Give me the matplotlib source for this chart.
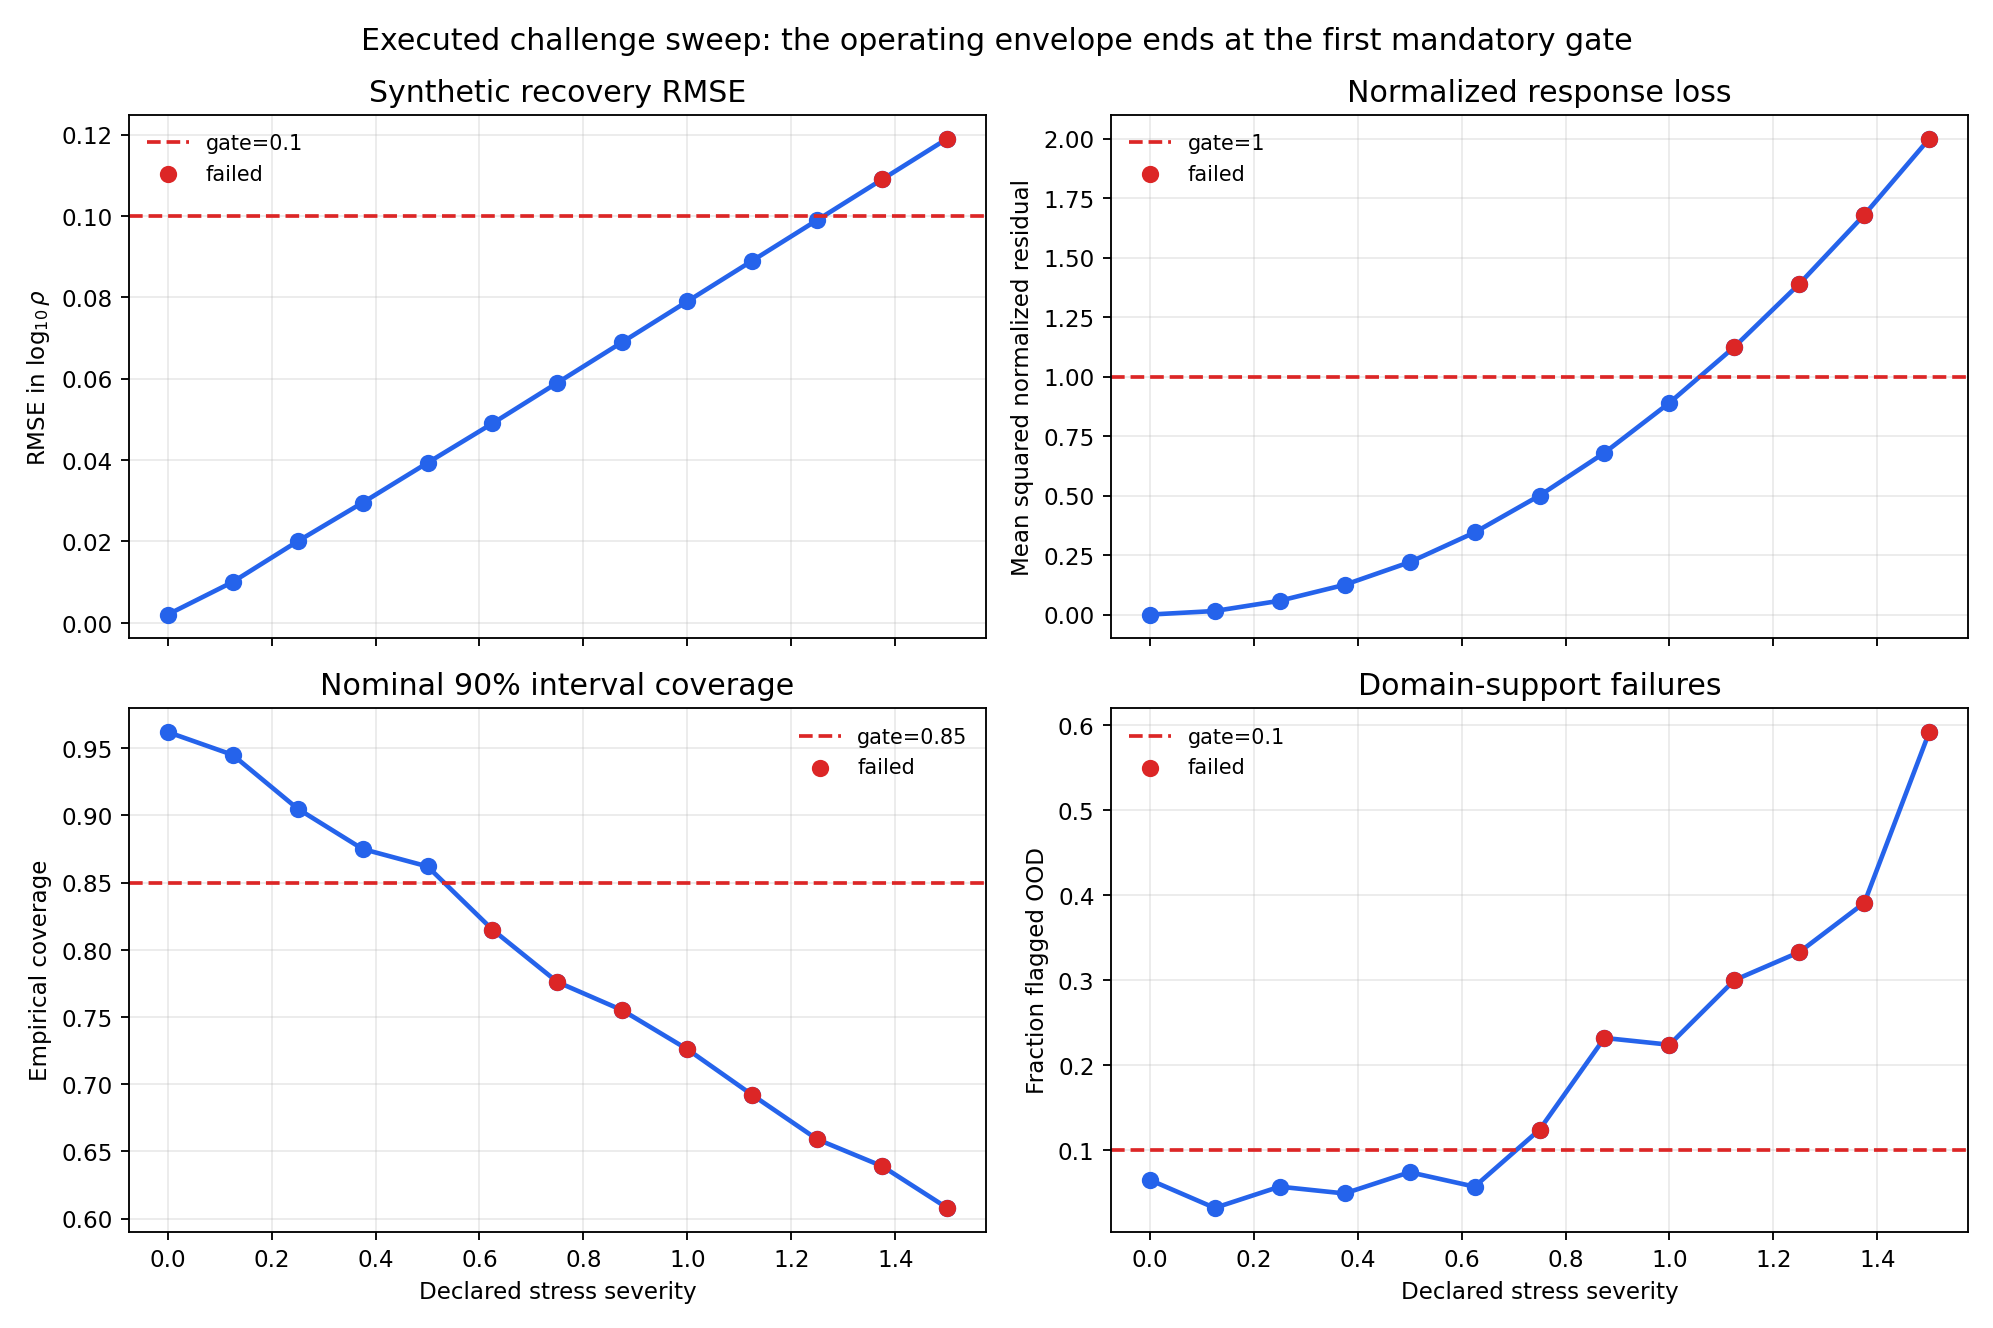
import numpy as np
import matplotlib
matplotlib.use("Agg")
import matplotlib.pyplot as plt
from matplotlib.ticker import MultipleLocator

severity = np.arange(13) * 0.125
rmse = [0.002, 0.010, 0.020, 0.0295, 0.0393, 0.049, 0.059, 0.069, 0.079, 0.089, 0.099, 0.109, 0.119]
loss = [0.0, 0.015, 0.058, 0.125, 0.22, 0.345, 0.50, 0.68, 0.89, 1.125, 1.39, 1.68, 2.0]
coverage = [0.962, 0.945, 0.905, 0.875, 0.862, 0.815, 0.776, 0.755, 0.726, 0.692, 0.659, 0.639, 0.608]
ood = [0.065, 0.032, 0.057, 0.049, 0.074, 0.057, 0.124, 0.232, 0.224, 0.300, 0.333, 0.391, 0.592]

panels = [
    ("Synthetic recovery RMSE", r"RMSE in $\log_{10}\rho$", rmse, 0.1, "gate=0.1", "above", "upper left"),
    ("Normalized response loss", "Mean squared normalized residual", loss, 1.0, "gate=1", "above", "upper left"),
    ("Nominal 90% interval coverage", "Empirical coverage", coverage, 0.85, "gate=0.85", "below", "upper right"),
    ("Domain-support failures", "Fraction flagged OOD", ood, 0.1, "gate=0.1", "above", "upper left"),
]

blue = "#2563eb"
red = "#dc2626"

fig, axes = plt.subplots(2, 2, figsize=(12, 8), dpi=166.1, sharex=True)
for ax, (title, ylab, vals, gate, glab, side, loc) in zip(axes.flat, panels):
    vals = np.array(vals)
    fail = vals > gate if side == "above" else vals < gate
    ax.plot(severity, vals, color=blue, lw=2, marker="o", ms=6.5, zorder=2)
    ax.axhline(gate, color=red, ls="--", lw=1.6, label=glab)
    ax.scatter(severity[fail], vals[fail], color=red, s=42, zorder=3, label="failed")
    ax.set_title(title, fontsize=13)
    ax.set_ylabel(ylab)
    ax.grid(alpha=0.25)
    ax.legend(loc=loc, fontsize=9, frameon=False)
axes[0, 1].yaxis.set_major_locator(MultipleLocator(0.25))
for ax in axes[1]:
    ax.set_xlabel("Declared stress severity")
axes[1, 0].set_xticks(np.arange(0, 1.41, 0.2))
fig.suptitle("Executed challenge sweep: the operating envelope ends at the first mandatory gate", fontsize=13)
fig.tight_layout()
fig.savefig("out.png")
